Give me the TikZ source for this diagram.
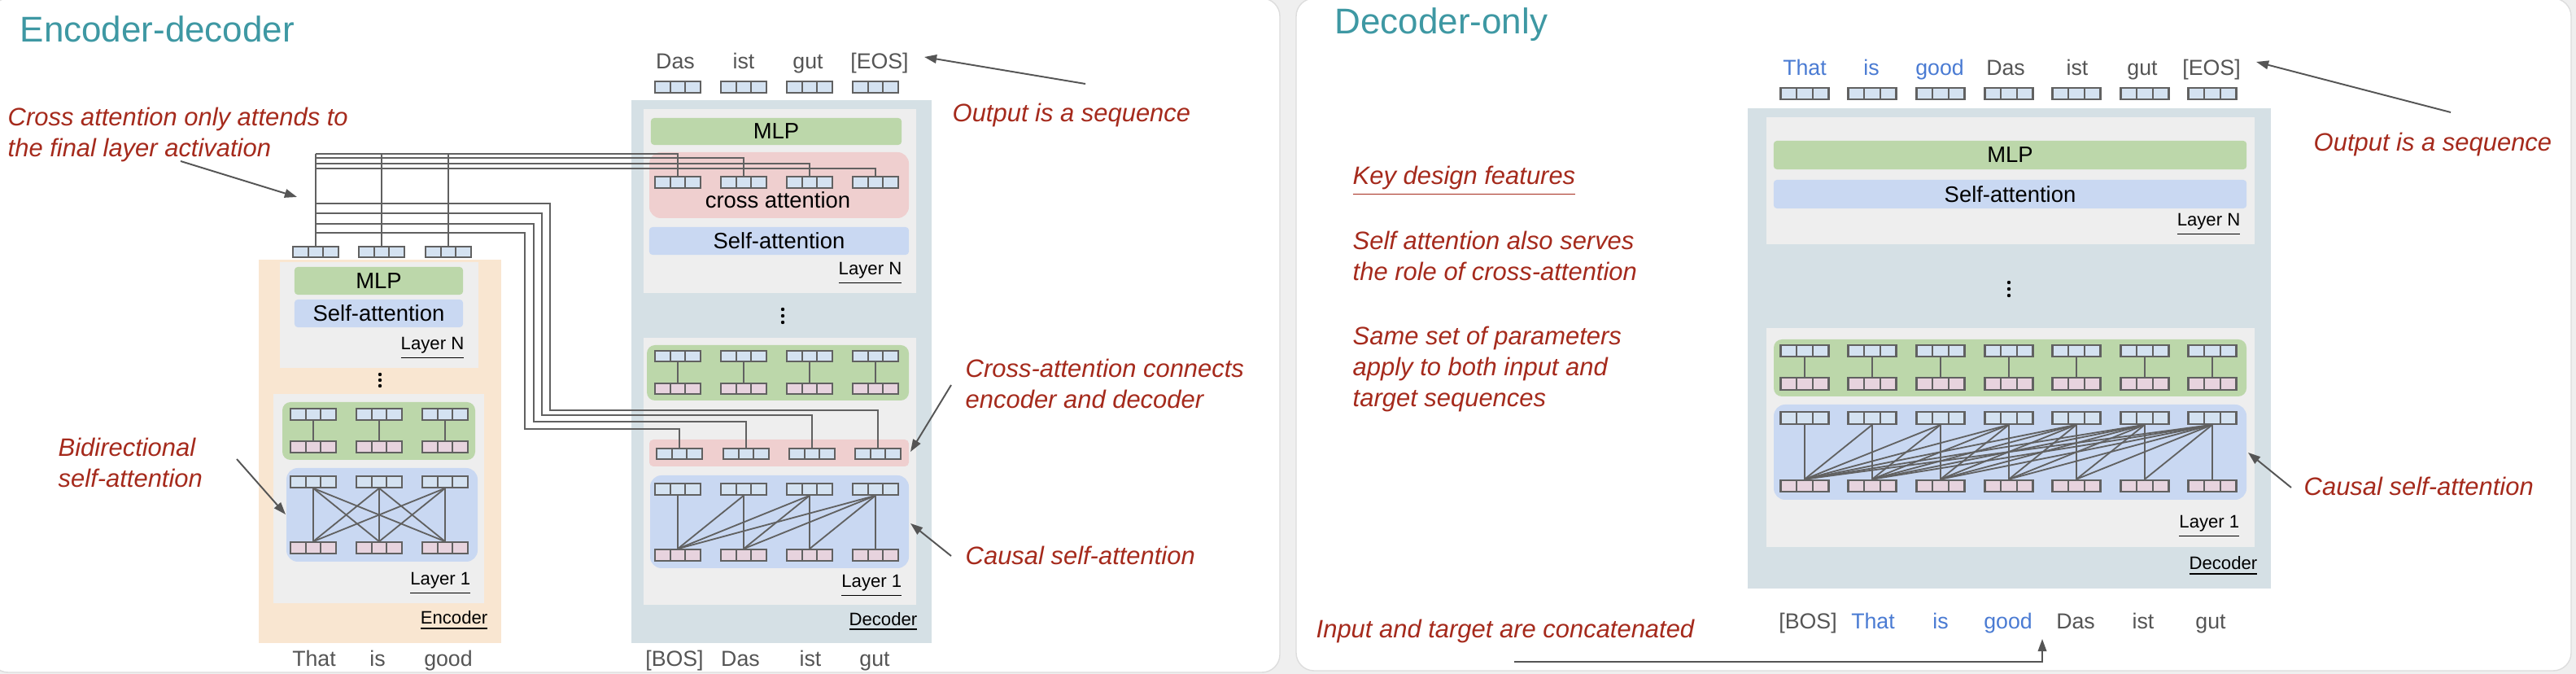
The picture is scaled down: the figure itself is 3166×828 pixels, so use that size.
\documentclass[tikz,border=0pt]{standalone}
\usepackage{fontspec}
\setmainfont{Liberation Sans}
\usetikzlibrary{arrows.meta,calc}

\definecolor{pagegray}{HTML}{EFEFEF}
\definecolor{edgegray}{HTML}{DDDDDD}
\definecolor{titleteal}{HTML}{3E98A3}
\definecolor{notered}{HTML}{A52A1C}
\definecolor{wiregray}{HTML}{616161}
\definecolor{arrowgray}{HTML}{555555}
\definecolor{wordgray}{HTML}{555555}
\definecolor{wordblue}{HTML}{4A7BD3}
\definecolor{encbg}{HTML}{F9E6D1}
\definecolor{decbg}{HTML}{D5E0E5}
\definecolor{layerbg}{HTML}{EEEEEE}
\definecolor{mlpgreen}{HTML}{BCD7AA}
\definecolor{attnblue}{HTML}{C9D8F2}
\definecolor{crosspink}{HTML}{EFCFCF}
\definecolor{tokblue}{HTML}{D4E2F1}
\definecolor{tokpink}{HTML}{E7D3DE}

\tikzset{
  wire/.style={draw=wiregray, line width=0.52pt},
  pointer/.style={draw=arrowgray, line width=0.55pt, -{Triangle[length=4.3pt,width=3pt]}},
  note/.style={text=notered, font=\fontsize{8.8}{10.8}\selectfont\itshape, align=left, inner sep=0pt},
  heading/.style={text=titleteal, font=\fontsize{12.5}{14}\selectfont, inner sep=0pt, anchor=base west},
  word/.style={text=wordgray, font=\fontsize{7.6}{9}\selectfont, inner sep=0pt, anchor=base},
  blueword/.style={word, text=wordblue},
  layerlab/.style={font=\fontsize{6.3}{7}\selectfont, inner sep=0pt, anchor=base east},
  blocktext/.style={font=\fontsize{7.8}{9}\selectfont, inner sep=0pt},
  mlpbox/.style={blocktext, fill=mlpgreen, rounded corners=0.04cm},
  attnbox/.style={blocktext, fill=attnblue, rounded corners=0.04cm},
  tok/.style={draw=wiregray, line width=0.6pt, fill=tokblue, inner sep=0pt,
    minimum width=0.56cm, minimum height=0.135cm,
    path picture={\draw[wiregray, line width=0.6pt]
      ($(path picture bounding box.north west)!0.3333!(path picture bounding box.north east)$) --
      ($(path picture bounding box.south west)!0.3333!(path picture bounding box.south east)$)
      ($(path picture bounding box.north west)!0.6667!(path picture bounding box.north east)$) --
      ($(path picture bounding box.south west)!0.6667!(path picture bounding box.south east)$);}},
  ptok/.style={tok, fill=tokpink},
  wtok/.style={tok, minimum width=0.59cm, minimum height=0.145cm},
  wptok/.style={wtok, fill=tokpink}
}

\begin{document}
\begin{tikzpicture}[x=0.01cm,y=-0.01cm]
\useasboundingbox (0,0) rectangle (3166,828);
\fill[pagegray] (0,0) rectangle (3166,828);
\filldraw[fill=white, draw=edgegray, line width=0.4pt, rounded corners=0.22cm] (-12,-2) rectangle (1573,826);
\filldraw[fill=white, draw=edgegray, line width=0.4pt, rounded corners=0.22cm] (1593,-2) rectangle (3160,824);

\node[heading] (encdectitle) at (24,52) {Encoder-decoder};
\node[heading] (deconlytitle) at (1640,42) {Decoder-only};

\fill[encbg] (318,319) rectangle (616,790);
\fill[layerbg] (344,322) rectangle (588,452);
\fill[layerbg] (336,484) rectangle (595,741);
\fill[mlpgreen, rounded corners=0.1cm] (347,494) rectangle (584,565);
\fill[attnblue, rounded corners=0.14cm] (352,575) rectangle (587,690);
\node[mlpbox, minimum width=2.07cm, minimum height=0.34cm] (encmlp) at (465.5,345) {MLP};
\node[attnbox, minimum width=2.07cm, minimum height=0.34cm] (encattn) at (465.5,385) {Self-attention};
\node[layerlab] (encln) at (571,430) {\underline{Layer N}};
\node[layerlab] (encl1) at (579,719) {\underline{Layer 1}};
\node[layerlab] (enclab) at (600,767) {\underline{Encoder}};
\foreach \d in {460,467,474} \fill (467,\d) circle[radius=0.022cm];

\fill[decbg] (776,123) rectangle (1145,790);
\fill[layerbg] (791,134) rectangle (1126,360);
\fill[crosspink, rounded corners=0.14cm] (798,187) rectangle (1117,268);
\fill[layerbg] (791,415) rectangle (1126,743);
\fill[mlpgreen, rounded corners=0.1cm] (795,424) rectangle (1117,492);
\fill[crosspink, rounded corners=0.05cm] (798,540) rectangle (1117,573);
\fill[attnblue, rounded corners=0.14cm] (799,584) rectangle (1117,698);
\node[mlpbox, minimum width=3.08cm, minimum height=0.33cm] (decmlp) at (954,161.5) {MLP};
\node[blocktext, anchor=base] (crosslab) at (956,256) {cross attention};
\node[attnbox, minimum width=3.19cm, minimum height=0.34cm] (decattn) at (957.5,296) {Self-attention};
\node[layerlab] (decln) at (1109,338) {\underline{Layer N}};
\node[layerlab] (decl1) at (1109,722) {\underline{Layer 1}};
\node[layerlab] (declab) at (1128,768) {\underline{Decoder}};
\foreach \d in {380,388,396} \fill (962,\d) circle[radius=0.022cm];

\fill[decbg] (2148,133) rectangle (2791,723);
\fill[layerbg] (2171,144) rectangle (2771,300);
\fill[layerbg] (2171,403) rectangle (2771,672);
\fill[mlpgreen, rounded corners=0.1cm] (2180,417) rectangle (2761,487);
\fill[attnblue, rounded corners=0.14cm] (2180,497) rectangle (2761,614);
\node[mlpbox, minimum width=5.81cm, minimum height=0.35cm] (gmlp) at (2470.5,190.5) {MLP};
\node[attnbox, minimum width=5.81cm, minimum height=0.35cm] (gattn) at (2470.5,238.5) {Self-attention};
\node[layerlab] (gln) at (2754,278) {\underline{Layer N}};
\node[layerlab] (gl1) at (2753,649) {\underline{Layer 1}};
\node[layerlab] (glab) at (2775,700) {\underline{Decoder}};
\foreach \d in {347,355,363} \fill (2469,\d) circle[radius=0.022cm];

\foreach \n/\x in {1/385,2/466,3/547} {
  \node[tok] (emt\n) at (\x,509) {};
  \node[ptok] (emb\n) at (\x,549) {};
  \draw[wire] (emt\n) -- (emb\n);
  \node[tok] (eat\n) at (\x,592) {};
  \node[ptok] (eab\n) at (\x,673) {};
}
\foreach \i in {1,2,3} \foreach \j in {1,2,3} \draw[wire] (eat\i.south) -- (eab\j.north);
\foreach \n/\x in {1/388,2/469,3/551} \node[tok] (eo\n) at (\x,309.5) {};

\foreach \n/\x in {1/833,2/914,3/995,4/1076} {
  \node[tok] (do\n) at (\x,107) {};
  \node[tok] (dct\n) at (\x,224) {};
  \node[tok] (dmt\n) at (\x,437.5) {};
  \node[ptok] (dmb\n) at (\x,477.5) {};
  \draw[wire] (dmt\n) -- (dmb\n);
  \node[tok] (dat\n) at (\x,601) {};
  \node[ptok] (dab\n) at (\x,682) {};
}
\foreach \n/\x in {1/835,2/917,3/998,4/1079} \node[tok] (dxt\n) at (\x,557.5) {};
\foreach \i in {1,...,4} \foreach \j in {1,...,\i} \draw[wire] (dat\i.south) -- (dab\j.north);

\foreach \k/\y in {1/189,2/194,3/201,4/207} {
  \coordinate (xbus\k) at (0,\y);
  \draw[wire] (eo1.north |- xbus\k) -| (dct\k.north);
}
\foreach \n in {1,2,3} \draw[wire] (eo\n.north) -- (eo\n.north |- xbus1);
\foreach \k/\y/\xt/\yl/\t in {1/250/676/504/4,2/262/666/510/3,3/275/656/518/2,4/286/645/527/1} {
  \coordinate (lbus\k) at (\xt,\y);
  \coordinate (lturn\k) at (\xt,\yl);
  \draw[wire] (eo1.north |- lbus\k) -- (lbus\k) -- (lturn\k) -| (dxt\t.north);
}

\foreach \n/\x in {1/2218,2/2301,3/2385,4/2469,5/2552,6/2636,7/2719} {
  \node[wtok] (go\n) at (\x,115) {};
  \node[wtok] (gmt\n) at (\x,431) {};
  \node[wptok] (gmb\n) at (\x,471.5) {};
  \draw[wire] (gmt\n) -- (gmb\n);
  \node[wtok] (gat\n) at (\x,513.5) {};
  \node[wptok] (gab\n) at (\x,597) {};
}
\foreach \i in {1,...,7} \foreach \j in {1,...,\i} \draw[wire] (gat\i.south) -- (gab\j.north);

\node[word] (ein1) at (386,818) {That};
\node[word] (ein2) at (464,818) {is};
\node[word] (ein3) at (551,818) {good};
\node[word] (dout1) at (830,85) {Das};
\node[word] (dout2) at (914,85) {ist};
\node[word] (dout3) at (993,85) {gut};
\node[word] (dout4) at (1081,85) {[EOS]};
\node[word] (din1) at (829,818) {[BOS]};
\node[word] (din2) at (910,818) {Das};
\node[word] (din3) at (996,818) {ist};
\node[word] (din4) at (1075,818) {gut};

\node[blueword] (gout1) at (2218,93) {That};
\node[blueword] (gout2) at (2300,93) {is};
\node[blueword] (gout3) at (2384,93) {good};
\node[word] (gout4) at (2465,93) {Das};
\node[word] (gout5) at (2553,93) {ist};
\node[word] (gout6) at (2633,93) {gut};
\node[word] (gout7) at (2718,93) {[EOS]};
\node[word] (gin1) at (2222,773) {[BOS]};
\node[blueword] (gin2) at (2302,773) {That};
\node[blueword] (gin3) at (2385,773) {is};
\node[blueword] (gin4) at (2468,773) {good};
\node[word] (gin5) at (2551,773) {Das};
\node[word] (gin6) at (2634,773) {ist};
\node[word] (gin7) at (2717,773) {gut};

\node[note, anchor=north west] (crossnote) at (9,131) {Cross attention only attends to\\the final layer activation};
\node[note, anchor=north west] (bidinote) at (71,537) {Bidirectional\\self-attention};
\node[note, anchor=base west] (outnote) at (1170,150) {Output is a sequence};
\node[note, anchor=north west] (connote) at (1186,440) {Cross-attention connects\\encoder and decoder};
\node[note, anchor=base west] (causalnote) at (1186,694) {Causal self-attention};
\node[note, anchor=base west] (keynote) at (1662,227) {\underline{Key design features}};
\node[note, anchor=north west] (rolenote) at (1662,283) {Self attention also serves\\the role of cross-attention};
\node[note, anchor=north west] (samenote) at (1662,400) {Same set of parameters\\apply to both input and\\target sequences};
\node[note, anchor=base west] (goutnote) at (2843,186) {Output is a sequence};
\node[note, anchor=base west] (gcausalnote) at (2831,609) {Causal self-attention};
\node[note, anchor=base west] (catnote) at (1617,784) {Input and target are concatenated};

\coordinate (crosstail) at (222,198);
\coordinate (crosstip) at (365,242);
\coordinate (biditail) at (291,564);
\coordinate (biditip) at (351,632);
\coordinate (outtail) at (1334,103);
\coordinate (outtip) at (1136,70);
\coordinate (contail) at (1169,473);
\coordinate (contip) at (1119,555);
\coordinate (causaltail) at (1169,683);
\coordinate (causaltip) at (1119,643);
\coordinate (gouttail) at (3012,138);
\coordinate (gouttip) at (2773,76);
\coordinate (gcausaltail) at (2816,599);
\coordinate (gcausaltip) at (2763,556);
\coordinate (cattail) at (1861,813);
\coordinate (cattip) at (2510,785);
\draw[pointer] (crosstail) -- (crosstip);
\draw[pointer] (biditail) -- (biditip);
\draw[pointer] (outtail) -- (outtip);
\draw[pointer] (contail) -- (contip);
\draw[pointer] (causaltail) -- (causaltip);
\draw[pointer] (gouttail) -- (gouttip);
\draw[pointer] (gcausaltail) -- (gcausaltip);
\draw[pointer] (cattail) -| (cattip);
\end{tikzpicture}
\end{document}
